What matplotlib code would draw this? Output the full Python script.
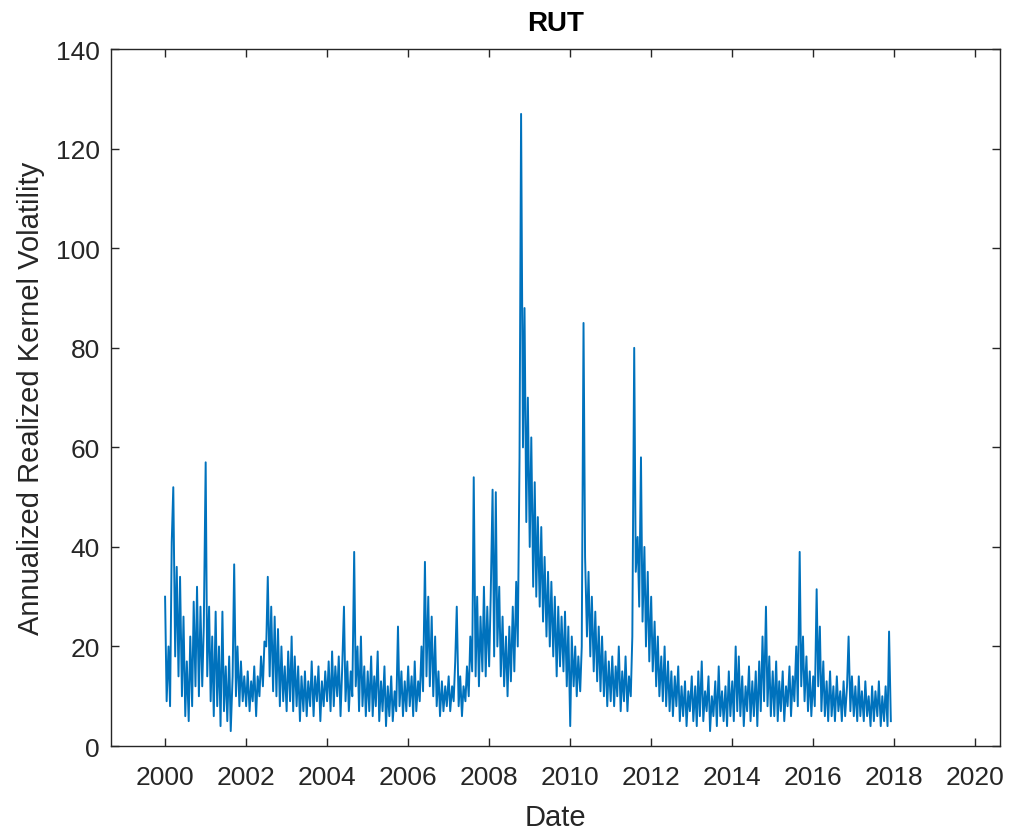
import matplotlib
matplotlib.use("Agg")
import matplotlib.pyplot as plt
import matplotlib.dates as mdates
import numpy as np
import pandas as pd

plt.rcParams['font.family'] = ['Liberation Sans', 'DejaVu Sans']

# semi-monthly readings of the realized kernel volatility, one row per year
vol_2000 = [30, 9, 20, 8, 41, 52, 18, 36, 14, 34, 10, 26, 6, 17, 5, 22, 8, 29, 12, 32, 10, 28, 12, 24]
vol_2001 = [57, 14, 28, 9, 22, 6, 27, 8, 20, 4, 27, 7, 16, 5, 18, 3, 14, 36.5, 10, 20, 8, 17, 9, 14]
vol_2002 = [8, 15, 7, 13, 9, 16, 6, 14, 10, 18, 12, 21, 20, 34, 14, 28, 11, 26, 10, 23.5, 8, 20, 9, 16]
vol_2003 = [7, 19, 9, 22, 7, 18, 8, 16, 5, 14, 7, 15, 6, 13, 8, 17, 6, 14, 9, 16, 5, 13, 8, 15]
vol_2004 = [9, 17, 7, 19, 8, 16, 10, 18, 6, 15, 28, 9, 17, 7, 15, 10, 39, 12, 20, 7, 22, 8, 16, 6]
vol_2005 = [15, 7, 18, 6, 14, 8, 19, 5, 13, 7, 16, 4, 12, 6, 14, 5, 11, 7, 24, 8, 15, 6, 13, 7]
vol_2006 = [16, 8, 14, 6, 17, 7, 13, 9, 20, 11, 37, 14, 30, 12, 26, 10, 22, 8, 15, 6, 13, 7, 12, 8]
vol_2007 = [14, 7, 12, 9, 17, 28, 8, 14, 6, 12, 9, 16, 10, 22, 15, 54, 14, 30, 12, 26, 15, 32, 14, 28]
vol_2008 = [16, 30, 51.5, 18, 51, 20, 32, 14, 26, 12, 22, 10, 24, 13, 28, 15, 33, 20, 58, 127, 60, 88, 45, 70]
vol_2009 = [40, 62, 32, 53, 30, 46, 28, 44, 25, 38, 22, 35, 20, 33, 18, 30, 14, 28, 16, 26, 15, 27, 12, 24]
vol_2010 = [4, 22, 12, 20, 10, 18, 11, 20, 85, 38, 22, 35, 18, 30, 15, 27, 13, 24, 11, 22, 10, 19, 8, 17]
vol_2011 = [9, 18, 8, 16, 10, 20, 7, 15, 9, 18, 7, 14, 10, 22, 80, 35, 42, 28, 58, 25, 40, 20, 35, 17]
vol_2012 = [30, 15, 25, 12, 22, 10, 18, 9, 20, 8, 17, 7, 15, 6, 14, 8, 16, 5, 12, 6, 13, 4, 11, 7]
vol_2013 = [14, 5, 12, 4, 15, 6, 17, 5, 11, 7, 14, 3, 10, 6, 13, 4, 16, 6, 11, 5, 12, 4, 15, 6]
vol_2014 = [13, 5, 20, 7, 18, 6, 14, 4, 12, 7, 16, 5, 13, 6, 15, 4, 17, 7, 22, 9, 28, 8, 18, 6]
vol_2015 = [15, 6, 17, 5, 13, 7, 15, 5, 12, 8, 16, 6, 14, 9, 20, 8, 39, 12, 22, 9, 18, 7, 15, 6]
vol_2016 = [14, 8, 31.5, 12, 24, 7, 17, 6, 13, 5, 15, 6, 12, 5, 14, 7, 11, 5, 13, 6, 12, 22, 7, 14]
vol_2017 = [6, 12, 5, 14, 6, 11, 5, 13, 6, 10, 4, 12, 5, 11, 6, 13, 4, 10, 5, 12, 4, 23, 5]

volatility = (vol_2000 + vol_2001 + vol_2002 + vol_2003 + vol_2004 + vol_2005
              + vol_2006 + vol_2007 + vol_2008 + vol_2009 + vol_2010 + vol_2011
              + vol_2012 + vol_2013 + vol_2014 + vol_2015 + vol_2016 + vol_2017)
dates = pd.date_range("2000-01-01", periods=len(volatility), freq="SMS")

year_ticks = list(range(2000, 2021, 2))
text_color = (0.15, 0.15, 0.15)

fig = plt.figure(figsize=(10.19, 8.37), dpi=100)
ax = fig.add_axes([0.109, 0.1075, 0.872, 0.8325])
ax.plot(dates, volatility, color="#0072BD", linewidth=1.4)

ax.set_xlim(pd.Timestamp("1998-09-01"), pd.Timestamp("2020-08-08"))
ax.set_ylim(0, 140)
ax.set_yticks(np.arange(0, 141, 20))
ax.set_xticks([pd.Timestamp(f"{y}-01-01") for y in year_ticks])
ax.xaxis.set_major_formatter(mdates.DateFormatter("%Y"))

ax.tick_params(direction="in", length=6, width=1, top=True, right=True,
               labelsize=19, colors=text_color)
ax.tick_params(axis="x", pad=14)
ax.tick_params(axis="y", pad=8)
for s in ax.spines.values():
    s.set_color(text_color)
    s.set_linewidth(1)

ax.set_xlabel("Date", fontsize=21, color=text_color, labelpad=10)
ax.set_ylabel("Annualized Realized Kernel Volatility", fontsize=21, color=text_color, labelpad=8)
ax.set_title("RUT", fontsize=20, fontweight="bold", pad=14)

fig.savefig("out.png", dpi=100)
